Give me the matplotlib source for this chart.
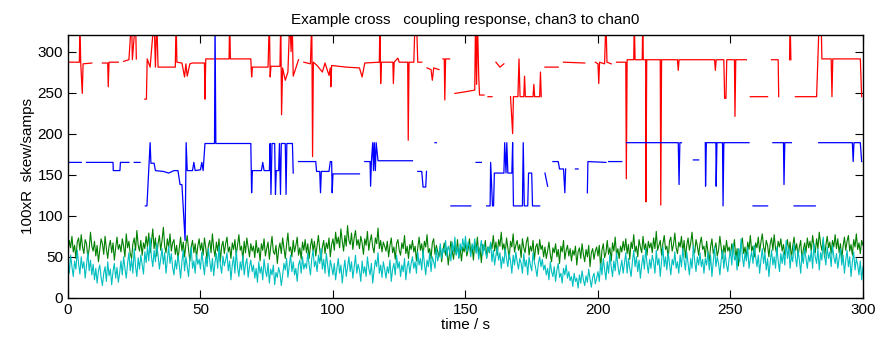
import numpy as np
import matplotlib

matplotlib.use("Agg")
import matplotlib.pyplot as plt

NAN = np.nan

# red trace: (time s, value), NaN marks a gap, >320 is a clipped spike
red_pts = [
    (0, 287), (4.3, 287), (4.5, 340), (4.8, 287), (5.4, 249), (5.7, 285), (9, 286), (12, NAN),
    (13, 286), (15, 286), (15.2, 257), (15.5, 287), (19, 287), (20, NAN), (21, 288), (23, 290),
    (24, 340), (24.3, 290), (25.5, 340), (25.8, 291), (27, NAN), (29, 242), (29.6, 242),
    (29.9, 291), (31, 281), (32.5, 340), (33, 281), (33.5, 340), (34, 281), (40.5, 281),
    (40.8, 340), (41.1, 287), (43, 286), (44, 269), (44.5, 285), (45, 270), (46, 285), (47, 286),
    (51.5, 286), (51.7, 242), (52, 291), (55, 291), (55.3, NAN), (56, 291), (60.8, 291),
    (61, 340), (61.3, 291), (69, 291), (69.3, 269), (69.6, 281), (75.5, 281), (76, 340),
    (76.3, 269), (76.6, 282), (80, 282), (80.3, 340), (80.6, 223), (81, 280), (82, 265),
    (83, 275), (83.7, 340), (84.2, 300), (84.6, 340), (85, 270), (87, 290), (88, NAN),
    (89, 287), (91.5, 285), (92, 340), (92.3, 172), (92.6, 287), (94, 283), (96, 275),
    (97, 286), (98.5, 271), (99, 280), (99.2, 257), (99.5, 283), (105, 281), (110, 280),
    (111, 269), (112, 286), (117.5, 287), (117.7, 340), (118, 261), (118.3, 287), (122.6, 287),
    (122.8, 261), (123.1, 287), (124.5, 292), (125, 287), (128.2, 287), (128.4, 192),
    (128.7, 287), (130.5, 287), (131, 340), (131.5, 340), (132, 287), (133.5, 287), (134, NAN),
    (135.5, 280), (137, 278), (137.5, 265), (138, 280), (140, 278), (140.5, NAN), (141.5, 291),
    (142, 291), (142.2, 241), (142.5, 291), (144, 291), (144.5, NAN), (146, 249), (150, 251),
    (153.5, 253), (153.8, 340), (154.2, 260), (154.5, 340), (155, 270), (155.3, 247),
    (157, 247), (157.5, NAN), (158.5, 245), (160, 245), (160.5, NAN), (161.5, 287), (163, 281),
    (164.5, 285), (165, NAN), (167, 245), (167.8, 200), (168.1, 245), (169.8, 245), (170.2, 291),
    (170.6, 245), (172, 245), (172.3, 270), (172.6, 245), (175.5, 245), (175.8, 260),
    (176.1, 245), (178, 245), (178.3, 275), (178.6, 245), (179, NAN), (180, 281), (185, 281),
    (186, NAN), (187, 287), (195, 286), (197, NAN), (199, 287), (200, 285), (200.3, 261),
    (200.6, 287), (202.5, 285), (203, 340), (203.4, 287), (205, 285), (206, NAN), (207, 287),
    (210.5, 287), (210.7, 145), (211, 290), (213.5, 290), (213.7, 340), (214, 290),
    (216.7, 290), (216.9, 340), (217.1, 290), (218, 290), (218.1, 117), (218.4, 290),
    (223.5, 290), (223.7, 113), (224, 290), (230, 290), (230.3, 277), (230.6, 290), (244, 290),
    (244.3, 277), (244.6, 290), (247.5, 290), (247.8, 243), (248.3, 243), (248.6, 290),
    (251.5, 290), (251.7, 221), (252, 290), (256, 290), (256.5, NAN), (257.5, 245), (264, 245),
    (264.5, NAN), (265.5, 290), (268, 290), (268.2, 245), (268.5, NAN), (272.3, 290),
    (272.5, 340), (272.8, 290), (273.5, NAN), (274.5, 245), (282.5, 245), (283.5, 340),
    (284.2, 340), (284.5, 291), (288, 291), (288.3, 245), (288.6, 291), (299, 291), (299.5, 245),
]

# blue trace
blue_pts = [
    (0, 165), (5, 165), (6, NAN), (7, 165), (17, 165), (17.1, 155), (19.6, 155), (19.8, 165),
    (23, 165), (24, NAN), (25, 165), (27.2, 165), (27.5, NAN), (29.2, 112), (29.8, 112),
    (31, 189), (31.3, 164), (32.5, 164), (33, 155), (36, 154), (38, 152), (40, 155),
    (41.5, 155), (42.3, 138), (43, 138), (44.2, 70), (44.6, 189), (45, 155), (47, 155),
    (47.5, 165), (48, 155), (50, 156), (50.5, 165), (51, 155), (51.7, 188), (55.3, 188),
    (55.5, 340), (55.8, 188), (69, 188), (69.3, 128), (69.6, 155), (73, 155), (73.5, 165),
    (74, 155), (76, 155), (76.3, 188), (76.6, 126), (77, 188), (78, 188), (78.3, 126),
    (78.6, 155), (79.5, 155), (79.8, 188), (80.2, 126), (80.5, 188), (82, 188), (82.3, 126),
    (82.6, 188), (84.7, 188), (85, 152), (86, NAN), (87, 166), (93.5, 166), (93.8, 154),
    (95, 154), (95.3, 128), (95.6, 154), (98.5, 154), (99, 166), (99.5, 166), (99.7, 128),
    (100, 151), (110, 151), (111, NAN), (112, 166), (114, 166), (114.2, 136), (114.5, 166),
    (115, 189), (115.3, 155), (115.6, 189), (116, 155), (116.3, 189), (117, 167), (130, 167),
    (131, NAN), (132, 154), (133.5, 154), (134, 135), (135, 135), (135.3, 154), (136, NAN),
    (138.5, 189), (139, 189), (139.5, NAN), (144.5, 112), (152, 112), (152.5, NAN), (154, 165),
    (156, 165), (156.3, NAN), (158, 112), (159.3, 112), (159.5, 165), (160.2, 112),
    (160.6, 112), (160.9, 152), (163, 152), (164.5, 152), (164.8, 189), (165.3, 152),
    (165.6, 189), (166, 152), (167.5, 152), (167.8, 189), (168.1, 112), (170, 112),
    (171.5, 112), (171.8, 189), (172.2, 112), (173.5, 112), (173.8, 152), (175, 152),
    (175.3, 112), (178, 112), (178.5, NAN), (180, 152), (181, 136), (181.5, NAN), (183, 166),
    (185, 166), (185.5, 157), (187, 157), (187.5, 128), (187.8, 157), (188.5, NAN),
    (191.5, 157), (192.5, 157), (193, NAN), (196, 128), (196.2, 166), (203, 165), (203.5, NAN),
    (204, 166), (209, 166), (209.5, NAN), (210.8, 189), (230.3, 189), (230.6, 138),
    (230.9, 189), (231.5, 189), (232, NAN), (236, 168), (238, 168), (238.5, NAN), (240.5, 189),
    (240.6, 136), (240.9, 189), (244.5, 189), (244.6, 136), (244.9, 189), (247, 189),
    (247.2, 112), (247.5, 189), (257, 189), (257.5, NAN), (258.5, 112), (264, 112),
    (264.5, NAN), (266, 189), (270, 189), (270.2, 138), (270.5, 189), (273, 189), (273.5, NAN),
    (274, 112), (282, 112), (282.5, NAN), (283.3, 189), (296, 189), (296.3, 166),
    (296.6, 189), (299, 189), (299.5, 166),
]

# green and cyan traces, two samples per second (one row = 10 s)
sample_dt = 0.5
green = [
    52, 70, 61, 75, 56, 64, 48, 68, 73, 58, 77, 62, 54, 71, 66, 49, 60, 80, 63, 57,
    69, 51, 64, 44, 58, 72, 66, 53, 75, 60, 48, 63, 70, 55, 67, 46, 61, 74, 59, 65,
    56, 72, 63, 50, 78, 61, 69, 54, 48, 66, 73, 58, 82, 64, 57, 70, 52, 67, 60, 75,
    62, 79, 55, 68, 84, 60, 73, 51, 66, 76, 58, 70, 86, 63, 55, 72, 61, 78, 57, 67,
    71, 53, 64, 47, 60, 74, 57, 68, 50, 65, 76, 59, 45, 62, 70, 55, 66, 49, 63, 72,
    58, 67, 52, 73, 61, 46, 64, 70, 55, 78, 60, 50, 68, 57, 72, 44, 63, 69, 54, 66,
    74, 56, 62, 48, 67, 59, 71, 52, 65, 77, 58, 63, 46, 69, 55, 73, 61, 50, 66, 57,
    63, 49, 70, 55, 61, 45, 66, 58, 72, 51, 60, 68, 47, 62, 75, 56, 53, 64, 42, 59,
    67, 54, 73, 60, 48, 65, 79, 57, 62, 50, 70, 56, 64, 74, 52, 61, 47, 68, 58, 71,
    55, 66, 48, 63, 72, 57, 69, 51, 64, 76, 59, 45, 62, 70, 54, 67, 60, 73, 50, 65,
    72, 58, 80, 66, 74, 61, 84, 69, 57, 76, 63, 88, 70, 65, 79, 59, 73, 82, 64, 71,
    60, 75, 67, 53, 72, 64, 81, 58, 69, 77, 62, 55, 73, 66, 85, 60, 70, 56, 68, 63,
    57, 69, 50, 64, 73, 55, 62, 47, 66, 71, 58, 52, 67, 60, 76, 54, 63, 48, 65, 59,
    70, 56, 63, 45, 61, 74, 58, 66, 51, 69, 62, 77, 55, 60, 48, 67, 72, 53, 64, 57,
    50, 63, 44, 58, 67, 52, 61, 40, 55, 69, 57, 47, 64, 53, 71, 49, 60, 45, 62, 56,
    66, 51, 59, 72, 55, 63, 46, 68, 57, 74, 52, 61, 43, 65, 58, 70, 49, 62, 55, 67,
    60, 76, 57, 68, 52, 71, 63, 80, 59, 66, 54, 73, 61, 47, 69, 62, 78, 56, 64, 70,
    58, 65, 49, 72, 61, 55, 68, 74, 52, 63, 57, 70, 46, 62, 66, 53, 71, 59, 64, 50,
    62, 48, 57, 68, 53, 44, 61, 55, 66, 50, 59, 42, 63, 56, 70, 47, 58, 64, 51, 60,
    45, 58, 52, 63, 40, 56, 61, 48, 66, 53, 44, 59, 50, 64, 38, 55, 60, 47, 57, 62,
    51, 64, 36, 58, 66, 49, 55, 70, 53, 61, 45, 67, 57, 74, 52, 60, 48, 63, 56, 69,
    58, 72, 54, 65, 47, 68, 60, 77, 56, 63, 50, 71, 62, 55, 75, 59, 66, 52, 69, 61,
    67, 55, 73, 60, 81, 58, 64, 70, 52, 66, 76, 59, 63, 48, 69, 74, 57, 65, 79, 61,
    54, 68, 62, 75, 56, 70, 49, 64, 73, 58, 67, 80, 60, 55, 71, 63, 52, 66, 74, 59,
    63, 50, 69, 56, 45, 62, 72, 54, 60, 67, 51, 58, 75, 61, 48, 64, 55, 70, 57, 62,
    52, 66, 58, 71, 47, 60, 39, 56, 65, 73, 54, 62, 49, 68, 59, 76, 57, 63, 50, 67,
    61, 74, 56, 68, 78, 62, 55, 70, 64, 50, 66, 73, 58, 77, 60, 53, 69, 62, 72, 57,
    65, 52, 60, 71, 56, 68, 48, 63, 74, 58, 66, 51, 62, 70, 45, 59, 67, 55, 73, 61,
    69, 57, 76, 63, 55, 72, 60, 80, 66, 58, 71, 49, 64, 75, 61, 68, 54, 70, 62, 77,
    60, 72, 55, 66, 48, 63, 74, 58, 69, 76, 57, 65, 52, 71, 62, 78, 59, 67, 54, 70,
    64,
]
cyan = [
    47, 30, 52, 38, 26, 45, 35, 58, 42, 29, 50, 36, 44, 24, 40, 55, 33, 46, 28, 41,
    22, 36, 18, 33, 40, 25, 15, 30, 38, 20, 44, 27, 35, 16, 32, 42, 24, 37, 19, 30,
    45, 28, 50, 36, 24, 42, 55, 33, 47, 30, 60, 38, 26, 49, 35, 52, 40, 29, 56, 43,
    62, 45, 73, 50, 38, 58, 44, 66, 52, 35, 48, 60, 41, 55, 30, 47, 63, 42, 54, 37,
    28, 46, 35, 52, 40, 24, 44, 58, 33, 50, 38, 26, 48, 62, 36, 45, 30, 53, 41, 47,
    35, 56, 42, 28, 50, 38, 60, 45, 32, 48, 27, 44, 54, 36, 63, 40, 30, 51, 39, 46,
    55, 33, 45, 22, 40, 50, 30, 58, 37, 26, 44, 34, 52, 28, 41, 48, 25, 38, 46, 32,
    40, 24, 36, 19, 44, 30, 38, 22, 47, 33, 26, 42, 18, 35, 28, 40, 16, 31, 25, 37,
    30, 15, 27, 42, 34, 48, 25, 38, 52, 32, 44, 28, 36, 20, 40, 46, 30, 50, 35, 42,
    36, 55, 40, 28, 48, 58, 38, 45, 32, 52, 42, 60, 35, 47, 30, 54, 40, 26, 46, 38,
    28, 42, 22, 36, 48, 30, 40, 18, 34, 46, 26, 38, 50, 32, 44, 24, 37, 52, 30, 41,
    34, 20, 45, 30, 38, 26, 50, 36, 28, 42, 18, 33, 46, 38, 55, 30, 40, 25, 44, 35,
    24, 38, 30, 46, 20, 35, 42, 28, 52, 36, 44, 26, 40, 32, 48, 22, 38, 45, 30, 42,
    50, 36, 44, 30, 56, 40, 48, 34, 58, 42, 28, 46, 38, 55, 32, 50, 44, 36, 60, 45,
    52, 66, 48, 60, 55, 70, 50, 63, 58, 45, 68, 56, 74, 52, 62, 48, 66, 58, 72, 60,
    75, 56, 68, 62, 50, 66, 58, 72, 54, 64, 47, 60, 70, 52, 65, 58, 48, 62, 56, 68,
    44, 58, 40, 52, 62, 46, 55, 36, 50, 42, 60, 48, 38, 54, 45, 30, 52, 40, 56, 44,
    35, 48, 42, 30, 54, 38, 46, 28, 50, 40, 33, 55, 44, 36, 26, 42, 50, 38, 47, 34,
    40, 28, 36, 22, 44, 32, 26, 38, 20, 34, 42, 25, 30, 18, 36, 28, 40, 24, 32, 21,
    26, 14, 30, 20, 24, 12, 28, 18, 33, 22, 15, 27, 19, 35, 23, 13, 25, 30, 17, 24,
    32, 20, 42, 28, 48, 35, 22, 44, 30, 52, 38, 26, 45, 33, 55, 40, 28, 36, 46, 30,
    42, 55, 30, 48, 36, 26, 44, 58, 38, 50, 32, 46, 24, 40, 52, 35, 60, 42, 30, 47,
    36, 52, 44, 30, 58, 40, 48, 26, 45, 62, 38, 50, 34, 55, 42, 28, 47, 40, 56, 36,
    44, 30, 52, 38, 60, 46, 34, 56, 42, 28, 48, 36, 64, 45, 32, 50, 40, 55, 38, 47,
    30, 48, 40, 56, 34, 52, 26, 44, 62, 38, 50, 42, 28, 46, 58, 36, 54, 40, 32, 48,
    58, 40, 66, 46, 52, 34, 60, 44, 72, 50, 38, 55, 45, 62, 36, 48, 56, 42, 64, 50,
    38, 52, 30, 46, 60, 42, 55, 34, 48, 26, 44, 58, 40, 50, 36, 62, 45, 32, 54, 42,
    56, 40, 70, 48, 62, 36, 52, 44, 66, 50, 38, 58, 46, 30, 54, 42, 60, 48, 36, 52,
    44, 58, 36, 66, 50, 42, 60, 34, 55, 46, 74, 52, 40, 62, 48, 56, 38, 64, 50, 42,
    54, 36, 48, 60, 40, 52, 30, 46, 58, 38, 50, 26, 44, 56, 34, 48, 40, 28, 45, 22,
    38,
]

x_ticks = [0, 50, 100, 150, 200, 250, 300]
y_ticks = [0, 50, 100, 150, 200, 250, 300]

plt.rcParams.update(
    {
        "font.family": ["Liberation Sans", "DejaVu Sans"],
        "font.size": 11,
        "xtick.direction": "in",
        "ytick.direction": "in",
        "xtick.top": True,
        "ytick.right": True,
        "xtick.major.size": 6,
        "ytick.major.size": 6,
    }
)

fig = plt.figure(figsize=(8.77, 3.44), dpi=100)
ax = fig.add_axes([0.0775, 0.134, 0.9065, 0.764])

red_t, red_v = zip(*red_pts)
blue_t, blue_v = zip(*blue_pts)
ax.plot(red_t, red_v, color="#ff0000", lw=0.9)
ax.plot(blue_t, blue_v, color="#0000ff", lw=0.9)
ax.plot(np.arange(len(green)) * sample_dt, green, color="#008000", lw=0.8)
ax.plot(np.arange(len(cyan)) * sample_dt, cyan, color="#00bfbf", lw=0.8)

ax.set_xlim(0, 300)
ax.set_ylim(0, 320)
ax.set_xticks(x_ticks)
ax.set_yticks(y_ticks)
ax.set_xlabel("time / s", labelpad=1)
ax.set_ylabel("100xR  skew/samps", labelpad=2)
ax.set_title("Example cross   coupling response, chan3 to chan0", fontsize=11, pad=8)
for s in ax.spines.values():
    s.set_linewidth(1.0)

fig.savefig("out.png", dpi=100)
